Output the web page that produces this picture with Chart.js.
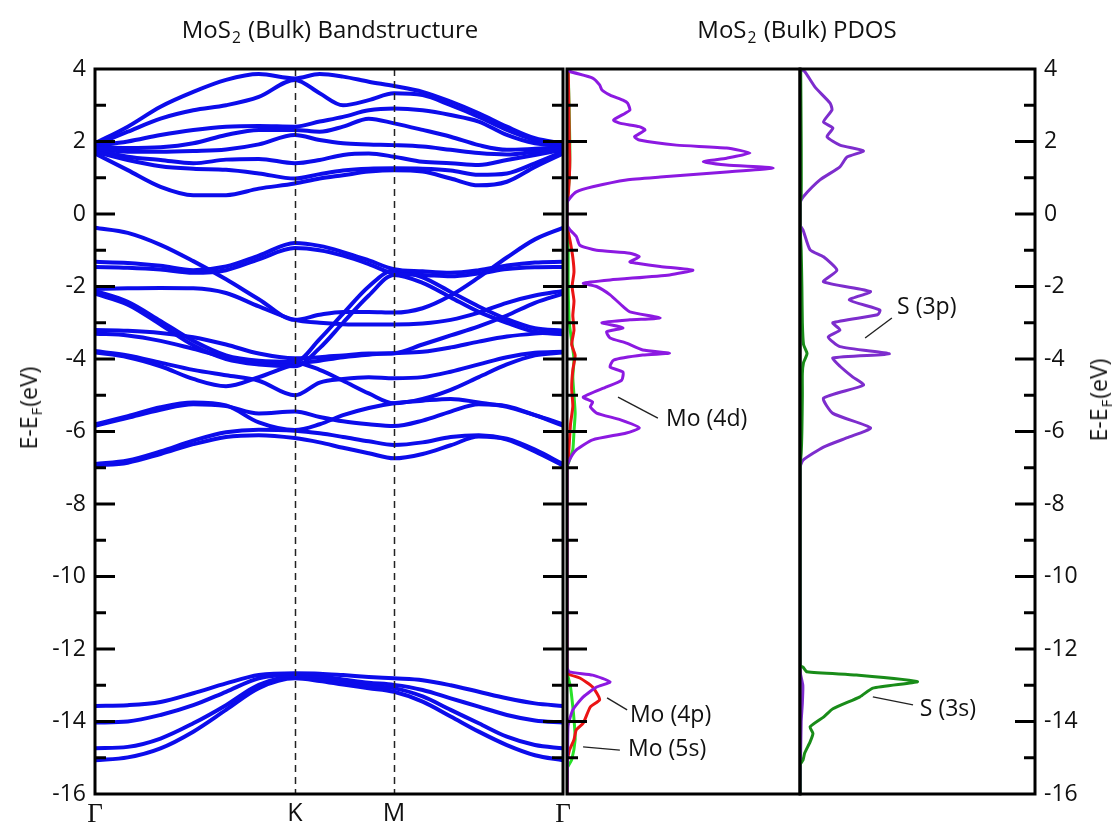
<!DOCTYPE html>
<html>
<head>
<meta charset="utf-8">
<script src="https://cdn.jsdelivr.net/npm/chart.js@4.4.0/dist/chart.umd.min.js"></script>
<style>
  body { margin: 0; background: #fff; }
  #wrap { position: relative; width: 1117px; height: 827px; overflow: hidden; font-family: "Open Sans", sans-serif; color: #111; }
  canvas { position: absolute; top: 0; }
  .title { position: absolute; top: 28px; transform: translate(-50%, -50%); font-family: "Liberation Sans Narrow", "Open Sans", sans-serif; font-size: 24px; white-space: nowrap; }
  .ytitle { position: absolute; transform: translate(-50%, -50%) rotate(-90deg); font-size: 23px; white-space: nowrap; }
  sub { font-size: 65%; vertical-align: -0.35em; line-height: 0; margin: 0 1px; }
</style>
</head>
<body>
<div id="wrap">
  <canvas id="bands" width="580" height="827" style="left:0"></canvas>
  <canvas id="moPdos" width="250" height="827" style="left:560px"></canvas>
  <canvas id="sPdos" width="327" height="827" style="left:790px"></canvas>
  <div class="title" style="left:330px">MoS<sub>2</sub> (Bulk) Bandstructure</div>
  <div class="title" style="left:797px">MoS<sub>2</sub> (Bulk) PDOS</div>
  <div class="ytitle" style="left:28px; top:408px">E-E<sub>F</sub>(eV)</div>
  <div class="ytitle" style="left:1098px; top:400px">E-E<sub>F</sub>(eV)</div>
</div>
<script>
// k path, Γ-K-M-Γ (fraction of path length)
const kPoints = [0, 0.07, 0.14, 0.21, 0.28, 0.35, 0.427, 0.48, 0.53, 0.585, 0.639, 0.70, 0.76, 0.82, 0.88, 0.94, 1];
const kTickPos = [0, 0.427, 0.639, 1];
const kTickLabels = ['Γ', 'K', 'M', 'Γ'];

// conduction bands (eV)
const cb1 = [1.67, 1.21, 0.75, 0.52, 0.52, 0.70, 0.84, 0.98, 1.07, 1.17, 1.21, 1.17, 0.98, 0.79, 0.89, 1.30, 1.67];
const cb2 = [1.72, 1.49, 1.32, 1.25, 1.22, 1.12, 0.98, 1.10, 1.20, 1.25, 1.26, 1.25, 1.20, 1.08, 1.12, 1.40, 1.72];
const cb3 = [1.77, 1.58, 1.49, 1.40, 1.50, 1.52, 1.40, 1.49, 1.63, 1.67, 1.58, 1.44, 1.40, 1.35, 1.49, 1.63, 1.77];
const cb4 = [1.82, 1.72, 1.72, 1.74, 1.78, 1.92, 2.18, 2.04, 1.95, 1.92, 1.90, 1.86, 1.77, 1.68, 1.64, 1.72, 1.82];
const cb5 = [1.84, 1.82, 1.84, 1.95, 2.18, 2.32, 2.32, 2.27, 2.41, 2.63, 2.50, 2.32, 2.13, 1.90, 1.77, 1.80, 1.84];
const cb6 = [1.88, 2.00, 2.18, 2.32, 2.41, 2.43, 2.41, 2.55, 2.68, 2.86, 2.91, 2.86, 2.73, 2.55, 2.18, 1.95, 1.88];
const cb7 = [1.90, 2.27, 2.63, 2.86, 3.00, 3.23, 3.70, 3.33, 3.00, 3.14, 3.33, 3.28, 3.00, 2.68, 2.32, 2.04, 1.90];
const cb8 = [1.95, 2.41, 2.96, 3.37, 3.70, 3.86, 3.74, 3.86, 3.79, 3.65, 3.53, 3.37, 3.10, 2.78, 2.41, 2.09, 1.95];

// valence bands (eV)
const vb1 = [-0.38, -0.52, -0.85, -1.30, -1.80, -2.35, -2.92, -2.78, -2.70, -2.70, -2.72, -2.60, -2.25, -1.75, -1.20, -0.70, -0.38];
const vb2 = [-1.32, -1.35, -1.43, -1.55, -1.45, -1.15, -0.80, -0.88, -1.05, -1.28, -1.52, -1.58, -1.62, -1.55, -1.42, -1.34, -1.32];
const vb3 = [-1.46, -1.48, -1.53, -1.62, -1.55, -1.25, -0.94, -1.00, -1.15, -1.38, -1.64, -1.68, -1.72, -1.64, -1.52, -1.47, -1.46];
const vb4 = [-2.07, -2.05, -2.04, -2.05, -2.18, -2.55, -2.92, -3.00, -3.04, -3.05, -3.05, -3.02, -2.92, -2.72, -2.45, -2.25, -2.12];
const vb5 = [-2.12, -2.42, -2.95, -3.50, -3.90, -4.05, -4.08, -3.45, -2.75, -2.00, -1.55, -1.75, -2.15, -2.55, -2.90, -3.15, -3.22];
const vb6 = [-2.20, -2.50, -3.05, -3.62, -4.00, -4.15, -4.20, -3.70, -3.00, -2.25, -1.68, -1.90, -2.30, -2.70, -3.00, -3.25, -3.32];
const vb7 = [-3.20, -3.22, -3.28, -3.40, -3.60, -3.85, -3.98, -3.95, -3.90, -3.85, -3.84, -3.60, -3.35, -3.10, -2.80, -2.45, -2.20];
const vb8 = [-3.30, -3.35, -3.50, -3.72, -3.95, -4.10, -4.10, -4.30, -4.60, -4.95, -5.22, -5.10, -4.85, -4.50, -4.15, -3.90, -3.82];
const vb9 = [-3.78, -3.90, -4.10, -4.30, -4.45, -4.60, -5.00, -4.65, -4.55, -4.50, -4.53, -4.50, -4.35, -4.15, -3.95, -3.83, -3.80];
const vb10 = [-3.82, -3.95, -4.20, -4.55, -4.75, -4.50, -4.15, -4.05, -3.95, -3.88, -3.84, -3.80, -3.68, -3.52, -3.38, -3.30, -3.26];
const vb11 = [-5.80, -5.58, -5.33, -5.20, -5.28, -5.75, -5.96, -5.80, -5.55, -5.35, -5.22, -5.15, -5.10, -5.20, -5.32, -5.55, -5.80];
const vb12 = [-5.84, -5.62, -5.40, -5.25, -5.30, -5.50, -5.45, -5.60, -5.72, -5.80, -5.85, -5.70, -5.45, -5.25, -5.30, -5.55, -5.84];
const vb13 = [-6.90, -6.80, -6.55, -6.25, -6.02, -5.95, -5.98, -6.05, -6.15, -6.27, -6.37, -6.30, -6.15, -6.10, -6.20, -6.50, -6.90];
const vb14 = [-6.94, -6.86, -6.62, -6.35, -6.15, -6.10, -6.18, -6.30, -6.45, -6.60, -6.74, -6.62, -6.38, -6.14, -6.22, -6.55, -6.94];

// S 3s semicore bands (eV)
const sb1 = [-13.57, -13.55, -13.46, -13.22, -12.95, -12.72, -12.67, -12.68, -12.72, -12.77, -12.81, -12.86, -13.00, -13.18, -13.36, -13.50, -13.57];
const sb2 = [-14.03, -14.00, -13.82, -13.55, -13.18, -12.81, -12.72, -12.76, -12.84, -12.93, -12.99, -13.13, -13.36, -13.59, -13.82, -13.97, -14.03];
const sb3 = [-14.74, -14.70, -14.47, -14.05, -13.55, -12.99, -12.76, -12.84, -12.93, -13.02, -13.08, -13.31, -13.68, -14.05, -14.42, -14.65, -14.74];
const sb4 = [-15.07, -14.99, -14.74, -14.28, -13.68, -13.08, -12.81, -12.88, -12.98, -13.08, -13.18, -13.45, -13.86, -14.28, -14.65, -14.93, -15.07];

const allBands = [cb1, cb2, cb3, cb4, cb5, cb6, cb7, cb8,
  vb1, vb2, vb3, vb4, vb5, vb6, vb7, vb8, vb9, vb10, vb11, vb12, vb13, vb14,
  sb1, sb2, sb3, sb4];

// PDOS (energy in eV, states in arbitrary units)
const mo4dE = [4.0, 3.93, 3.75, 3.56, 3.42, 3.28, 3.14, 3.06, 2.87, 2.78, 2.59, 2.50, 2.41, 2.32, 2.13, 2.04, 1.90, 1.82, 1.68, 1.54, 1.44, 1.35, 1.27, 1.16, 1.02, 0.94, 0.75, 0.61, 0.44, 0.30,
  -0.30, -0.44, -0.62, -0.86, -1.00, -1.08, -1.18, -1.32, -1.36, -1.45, -1.55, -1.68, -1.82, -1.91, -2.00, -2.23, -2.55, -2.70, -2.87, -2.92, -3.00, -3.14, -3.25, -3.42, -3.56, -3.75, -3.84, -3.89, -4.03, -4.22, -4.36, -4.58, -4.77, -5.05, -5.19, -5.32, -5.49, -5.68, -5.90, -6.04, -6.23, -6.51, -6.79, -7.00,
  -12.50, -12.63, -12.72, -12.91, -13.05, -13.32, -13.68, -14.10, -14.50, -15.00, -16.00];
const mo4d = [0.0, 0.13, 1.1, 1.4, 1.5, 1.85, 2.4, 2.6, 2.7, 2.5, 2.0, 2.3, 3.1, 3.35, 2.9, 3.1, 4.7, 6.85, 7.85, 6.85, 5.85, 6.85, 8.85, 6.85, 4.0, 2.55, 1.1, 0.4, 0.13, 0.0,
  0.0, 0.13, 0.4, 0.55, 1.27, 2.7, 3.1, 2.7, 3.0, 4.0, 5.4, 4.4, 1.85, 0.7, 1.27, 1.85, 2.4, 2.7, 4.0, 2.7, 1.5, 2.4, 1.7, 1.85, 2.55, 3.25, 4.4, 3.25, 2.0, 1.85, 2.4, 2.35, 1.7, 0.7, 1.1, 1.0, 1.27, 2.3, 3.1, 2.55, 1.1, 0.4, 0.1, 0.0,
  0.0, 0.1, 1.1, 1.85, 1.27, 0.7, 0.25, 0.05, 0.03, 0.02, 0.0];

const mo4pE = [4.0, 3.0, 2.0, 1.5, 1.0, 0.5, 0.3, -0.3, -0.8, -1.2, -1.6, -2.0, -2.4, -2.8, -3.2, -3.6, -3.9, -4.3, -4.8, -5.3, -5.8, -6.3, -6.8, -7.0,
  -12.55, -12.70, -12.80, -13.05, -13.40, -13.60, -14.04, -14.23, -14.50, -14.80, -15.10, -16.0];
const mo4p = [0.05, 0.08, 0.1, 0.12, 0.1, 0.05, 0.0, 0.0, 0.15, 0.25, 0.3, 0.22, 0.3, 0.25, 0.3, 0.2, 0.35, 0.25, 0.2, 0.25, 0.15, 0.1, 0.05, 0.0,
  0.0, 0.1, 0.55, 1.1, 1.4, 1.0, 0.7, 0.4, 0.3, 0.1, 0.02, 0.0];

const mo5sE = [4.0, 2.0, 1.0, 0.3, -0.3, -1.0, -2.0, -3.0, -3.5, -4.0, -4.5, -5.0, -5.5, -6.0, -6.5, -6.8, -7.0,
  -12.6, -13.05, -13.6, -14.1, -14.5, -15.06, -15.3, -16.0];
const mo5s = [0.05, 0.12, 0.1, 0.0, 0.0, 0.05, 0.05, 0.1, 0.2, 0.3, 0.25, 0.3, 0.35, 0.3, 0.25, 0.1, 0.0,
  0.0, 0.15, 0.25, 0.32, 0.35, 0.2, 0.0, 0.0];

const s3pE = [4.0, 3.93, 3.50, 3.06, 2.87, 2.54, 2.37, 2.13, 1.90, 1.74, 1.57, 1.30, 0.94, 0.47, 0.30,
  -0.30, -0.44, -0.99, -1.18, -1.55, -1.87, -2.14, -2.37, -2.65, -2.78, -3.00, -3.20, -3.39, -3.66, -3.86, -3.97, -4.20, -4.50, -4.72, -5.08, -5.50, -5.90, -6.15, -6.43, -6.79, -7.00,
  -12.60, -13.00, -13.50, -14.00, -16.00];
const s3p = [0.0, 0.2, 0.64, 1.28, 1.36, 1.0, 1.4, 1.15, 1.7, 2.7, 2.0, 1.7, 0.85, 0.13, 0.0,
  0.0, 0.13, 0.43, 1.0, 1.57, 1.0, 3.0, 2.1, 3.4, 3.3, 1.4, 1.7, 1.2, 1.7, 3.8, 1.4, 1.7, 2.25, 2.7, 1.0, 1.4, 3.0, 2.1, 1.0, 0.13, 0.0,
  0.0, 0.12, 0.1, 0.05, 0.0];

const s3sE = [4.0, 2.0, 0.5, 0.3, -0.3, -1.0, -2.0, -3.0, -3.6, -3.85, -4.1, -4.4, -5.0, -6.0, -6.6, -7.0,
  -12.45, -12.50, -12.63, -12.72, -12.90, -13.08, -13.32, -13.65, -13.88, -14.15, -14.33, -14.56, -14.87, -15.06, -15.20, -16.0];
const s3s = [0.03, 0.05, 0.05, 0.0, 0.0, 0.05, 0.08, 0.1, 0.15, 0.3, 0.15, 0.1, 0.1, 0.08, 0.05, 0.0,
  0.0, 0.13, 0.3, 2.4, 5.0, 3.1, 2.55, 1.4, 1.0, 0.43, 0.55, 0.43, 0.2, 0.13, 0.0, 0.0];

const eMin = -16, eMax = 4, eLabelStep = 2, eMinorStep = 1;
const dosMax = 10;

const BLUE = 'rgb(12,12,235)';
const PURPLE_MO = 'rgb(140,25,225)';
const PURPLE_S = 'rgb(125,45,205)';
const RED = 'rgb(235,20,20)';
const GREEN_MO = 'rgb(40,225,40)';
const GREEN_S = 'rgb(25,140,25)';

const pairs = (xs, ys) => xs.map((x, i) => ({ x: x, y: ys[i] }));
const dosPairs = (es, ds) => es.map((e, i) => ({ x: ds[i], y: e }));

// frame, inward ticks, dashed symmetry lines and labels with leaders
const framePlugin = {
  id: 'frame',
  afterDatasetsDraw(chart, args, opts) {
    const { ctx, chartArea: a } = chart;
    const x = chart.scales.x, y = chart.scales.y;
    ctx.save();
    (opts.dashed || []).forEach(v => {
      const px = Math.round(x.getPixelForValue(v)) + 0.5;
      ctx.setLineDash([7, 5]);
      ctx.lineWidth = 1.5;
      ctx.strokeStyle = '#222';
      ctx.beginPath();
      ctx.moveTo(px, a.top);
      ctx.lineTo(px, a.bottom);
      ctx.stroke();
    });
    ctx.setLineDash([]);
    ctx.lineWidth = 3;
    ctx.strokeStyle = '#000';
    for (let v = eMin + eMinorStep; v < eMax; v += eMinorStep) {
      const py = y.getPixelForValue(v);
      const len = v % eLabelStep === 0 ? 20 : 11;
      (opts.tickSides || []).forEach(side => {
        ctx.beginPath();
        if (side === 'left') { ctx.moveTo(a.left, py); ctx.lineTo(a.left + len, py); }
        else { ctx.moveTo(a.right, py); ctx.lineTo(a.right - len, py); }
        ctx.stroke();
      });
    }
    ctx.strokeRect(a.left, a.top, a.right - a.left, a.bottom - a.top);
    (opts.notes || []).forEach(n => {
      ctx.lineWidth = 1.4;
      ctx.strokeStyle = '#222';
      ctx.beginPath();
      ctx.moveTo(x.getPixelForValue(n.from[0]), y.getPixelForValue(n.from[1]));
      ctx.lineTo(x.getPixelForValue(n.to[0]), y.getPixelForValue(n.to[1]));
      ctx.stroke();
      ctx.fillStyle = '#111';
      ctx.font = '23px "Open Sans", sans-serif';
      ctx.textBaseline = 'middle';
      ctx.fillText(n.text, x.getPixelForValue(n.at[0]), y.getPixelForValue(n.at[1]));
    });
    ctx.restore();
  }
};

const baseOpts = {
  responsive: false,
  animation: false,
  events: [],
  plugins: { legend: { display: false }, tooltip: { enabled: false } }
};

const tickFont = { family: '"Open Sans", sans-serif', size: 23 };

new Chart(document.getElementById('bands'), {
  type: 'scatter',
  data: {
    datasets: allBands.map(b => ({
      data: pairs(kPoints, b),
      showLine: true,
      borderColor: BLUE,
      borderWidth: 4,
      pointRadius: 0,
      cubicInterpolationMode: 'monotone'
    }))
  },
  options: {
    ...baseOpts,
    layout: { padding: { top: 69, right: 17, left: 0, bottom: 0 } },
    plugins: { ...baseOpts.plugins, frame: { dashed: [kTickPos[1], kTickPos[2]], tickSides: ['left', 'right'] } },
    scales: {
      x: {
        type: 'linear', min: 0, max: 1,
        afterBuildTicks: s => { s.ticks = kTickPos.map(v => ({ value: v })); },
        afterFit: s => { s.height = 33; },
        grid: { display: false, drawTicks: false },
        border: { display: false },
        ticks: {
          autoSkip: false, maxRotation: 0, padding: 5, color: '#111',
          callback: (v, i) => kTickLabels[i],
          font: c => (c.index === 0 || c.index === kTickPos.length - 1)
            ? { family: '"Liberation Serif", serif', size: 27 }
            : { family: '"Open Sans", sans-serif', size: 25 }
        }
      },
      y: {
        min: eMin, max: eMax,
        afterFit: s => { s.width = 95; },
        grid: { display: false, drawTicks: false },
        border: { display: false },
        ticks: { stepSize: eLabelStep, padding: 9, color: '#111', font: tickFont }
      }
    }
  },
  plugins: [framePlugin]
});

new Chart(document.getElementById('moPdos'), {
  type: 'scatter',
  data: {
    datasets: [
      { data: dosPairs(mo4dE, mo4d), borderColor: PURPLE_MO },
      { data: dosPairs(mo4pE, mo4p), borderColor: RED },
      { data: dosPairs(mo5sE, mo5s), borderColor: GREEN_MO }
    ].map(d => ({ ...d, showLine: true, borderWidth: 3, pointRadius: 0, tension: 0.18 }))
  },
  options: {
    ...baseOpts,
    layout: { padding: { top: 69, right: 10, left: 7, bottom: 33 } },
    plugins: {
      ...baseOpts.plugins,
      frame: {
        tickSides: ['left'],
        notes: [
          { text: 'Mo (4d)', from: [2.19, -5.05], to: [3.9, -5.63], at: [4.25, -5.68] },
          { text: 'Mo (4p)', from: [1.72, -13.35], to: [2.58, -13.68], at: [2.7, -13.82] },
          { text: 'Mo (5s)', from: [0.69, -14.70], to: [2.27, -14.79], at: [2.62, -14.76] }
        ]
      }
    },
    scales: {
      x: { type: 'linear', min: 0, max: dosMax, display: false },
      y: { min: eMin, max: eMax, display: false }
    }
  },
  plugins: [framePlugin]
});

new Chart(document.getElementById('sPdos'), {
  type: 'scatter',
  data: {
    datasets: [
      { data: dosPairs(s3sE, s3s), borderColor: GREEN_S },
      { data: dosPairs(s3pE, s3p), borderColor: PURPLE_S }
    ].map(d => ({ ...d, showLine: true, borderWidth: 3, pointRadius: 0, tension: 0.18 }))
  },
  options: {
    ...baseOpts,
    layout: { padding: { top: 69, right: 0, left: 10, bottom: 33 } },
    plugins: {
      ...baseOpts.plugins,
      frame: {
        tickSides: ['right'],
        notes: [
          { text: 'S (3p)', from: [2.77, -3.42], to: [3.91, -2.87], at: [4.13, -2.59] },
          { text: 'S (3s)', from: [3.1, -13.32], to: [4.81, -13.54], at: [5.1, -13.66] }
        ]
      }
    },
    scales: {
      x: { type: 'linear', min: 0, max: dosMax, display: false },
      y: {
        position: 'right', min: eMin, max: eMax,
        afterFit: s => { s.width = 82; },
        grid: { display: false, drawTicks: false },
        border: { display: false },
        ticks: { stepSize: eLabelStep, padding: 9, color: '#111', font: tickFont }
      }
    }
  },
  plugins: [framePlugin]
});
</script>
</body>
</html>
